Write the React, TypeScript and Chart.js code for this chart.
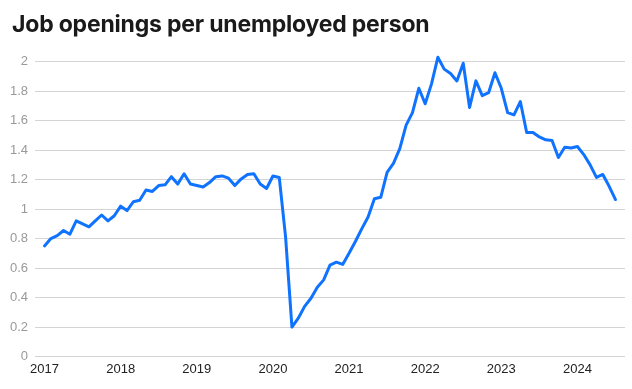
import React, { useEffect, useRef } from 'react';
import { Chart, registerables } from 'chart.js';

Chart.register(...registerables);

const chartTitle = 'Job openings per unemployed person';
const yearLabels = ['2017', '2018', '2019', '2020', '2021', '2022', '2023', '2024'];
const yTickValues = [0, 0.2, 0.4, 0.6, 0.8, 1, 1.2, 1.4, 1.6, 1.8, 2];

// Monthly ratio, Jan 2017 – Jul 2024
const ratios2017 = [0.75, 0.8, 0.82, 0.855, 0.83, 0.92, 0.9, 0.88, 0.92, 0.96, 0.92, 0.955];
const ratios2018 = [1.02, 0.99, 1.05, 1.06, 1.13, 1.12, 1.16, 1.165, 1.22, 1.17, 1.24, 1.17];
const ratios2019 = [1.16, 1.15, 1.18, 1.22, 1.225, 1.21, 1.16, 1.205, 1.235, 1.24, 1.17, 1.14];
const ratios2020 = [1.225, 1.215, 0.81, 0.2, 0.26, 0.34, 0.395, 0.47, 0.52, 0.62, 0.64, 0.625];
const ratios2021 = [0.7, 0.78, 0.866, 0.947, 1.07, 1.08, 1.25, 1.31, 1.41, 1.57, 1.655, 1.82];
const ratios2022 = [1.715, 1.85, 2.03, 1.95, 1.92, 1.87, 1.99, 1.69, 1.87, 1.77, 1.79, 1.925];
const ratios2023 = [1.82, 1.655, 1.64, 1.73, 1.52, 1.52, 1.49, 1.47, 1.465, 1.35, 1.42, 1.415];
const ratios2024 = [1.425, 1.37, 1.3, 1.215, 1.235, 1.155, 1.065];

const ratios = [
  ...ratios2017,
  ...ratios2018,
  ...ratios2019,
  ...ratios2020,
  ...ratios2021,
  ...ratios2022,
  ...ratios2023,
  ...ratios2024,
];

const tickFont = "'Liberation Sans', Arial, sans-serif";

export default function App() {
  const canvasRef = useRef<HTMLCanvasElement>(null);

  useEffect(() => {
    const canvas = canvasRef.current;
    if (!canvas) return;
    const chart = new Chart(canvas, {
      type: 'line',
      data: {
        datasets: [
          {
            data: ratios.map((v, i) => ({ x: i, y: v })),
            borderColor: '#0f73ff',
            borderWidth: 3,
            pointRadius: 0,
            tension: 0,
            fill: false,
            borderJoinStyle: 'round',
            borderCapStyle: 'round',
          },
        ],
      },
      options: {
        animation: false,
        responsive: false,
        layout: { padding: { top: 47, right: 7, left: 0, bottom: 0 } },
        plugins: {
          legend: { display: false },
          tooltip: { enabled: false },
          title: { display: false },
        },
        scales: {
          x: {
            type: 'linear',
            min: -1.5,
            max: ratios.length + 0.5,
            grid: { display: false, drawTicks: false },
            border: { display: false },
            afterBuildTicks: (scale: any) => {
              scale.ticks = yearLabels.map((_, i) => ({ value: i * 12 }));
            },
            afterFit: (scale: any) => {
              scale.height = 32.5;
            },
            ticks: {
              autoSkip: false,
              maxRotation: 0,
              padding: 5,
              color: '#222',
              font: { family: tickFont, size: 13 },
              callback: (v: any) => yearLabels[Math.round(Number(v) / 12)],
            },
          },
          y: {
            min: 0,
            max: 2.1,
            afterBuildTicks: (scale: any) => {
              scale.ticks = yTickValues.map((v) => ({ value: v }));
            },
            afterFit: (scale: any) => {
              scale.width = 35;
            },
            grid: { color: '#d4d4d4', lineWidth: 1, drawTicks: false },
            border: { display: false },
            ticks: {
              padding: 7,
              color: '#999',
              font: { family: tickFont, size: 13 },
              callback: (v: any) => String(v),
            },
          },
        },
      },
    });
    return () => chart.destroy();
  }, []);

  return (
    <div style={{ position: 'absolute', left: 0, top: 0, width: 632, height: 389, background: '#fff' }}>
      <canvas ref={canvasRef} width={632} height={389} style={{ position: 'absolute', left: 0, top: 0 }} />
      <div
        style={{
          position: 'absolute',
          left: 12,
          top: 13,
          fontFamily: "Inter, 'Noto Sans', sans-serif",
          fontWeight: 700,
          fontSize: 23,
          lineHeight: '23px',
          color: '#1a1a1a',
          whiteSpace: 'nowrap',
          letterSpacing: '-0.2px',
        }}
      >
        {chartTitle}
      </div>
    </div>
  );
}
